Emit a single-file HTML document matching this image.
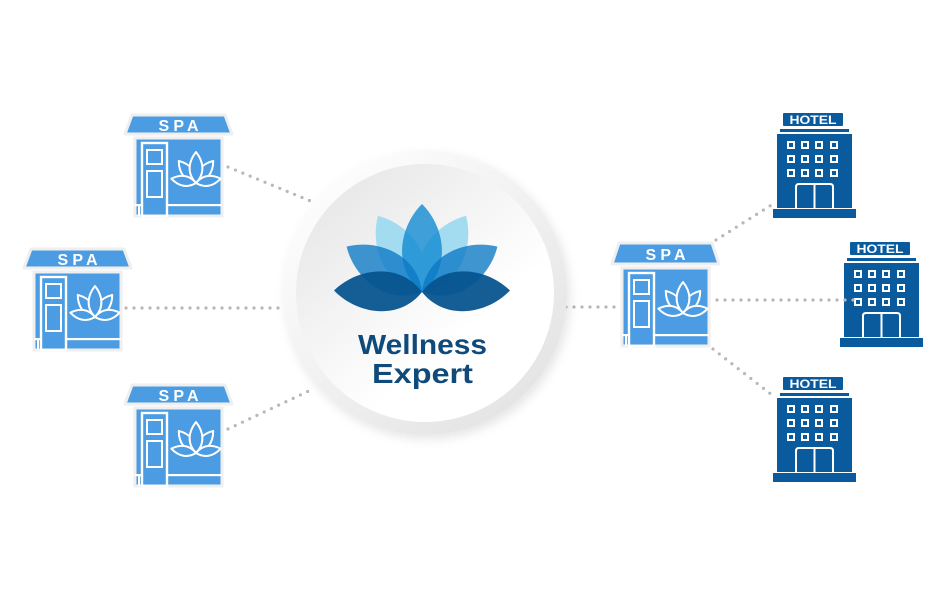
<!DOCTYPE html>
<html><head><meta charset="utf-8"><style>
html,body{margin:0;padding:0;background:#fff;}
svg{display:block;}
text{font-family:"Liberation Sans",sans-serif;font-weight:bold;}
</style></head><body>
<svg width="940" height="600" viewBox="0 0 940 600" xmlns="http://www.w3.org/2000/svg">
<defs>
  <linearGradient id="ring" x1="0.15" y1="0.1" x2="0.85" y2="0.9">
    <stop offset="0" stop-color="#fdfdfd"/><stop offset="1" stop-color="#e4e4e4"/>
  </linearGradient>
  <linearGradient id="disc" x1="0.15" y1="0.1" x2="0.8" y2="0.85">
    <stop offset="0" stop-color="#e8e8e8"/><stop offset="0.75" stop-color="#ffffff"/><stop offset="1" stop-color="#ffffff"/>
  </linearGradient>
  <filter id="sh" x="-20%" y="-20%" width="140%" height="140%">
    <feDropShadow dx="3" dy="4" stdDeviation="5" flood-color="#000" flood-opacity="0.10"/>
  </filter>
</defs>

<!-- dotted connectors -->
<g stroke="#b8b8b8" stroke-width="3.2" stroke-linecap="round" stroke-dasharray="0 8" fill="none">
  <line x1="228" y1="167" x2="313" y2="202"/>
  <line x1="126" y1="308" x2="282" y2="308"/>
  <line x1="228" y1="429" x2="313" y2="389"/>
  <line x1="566" y1="307" x2="616" y2="307"/>
  <line x1="716" y1="240" x2="773" y2="204"/>
  <line x1="717" y1="300" x2="861" y2="300"/>
  <line x1="713" y1="349" x2="772" y2="395"/>
</g>

<!-- center circle -->
<circle cx="425" cy="293" r="142" fill="url(#ring)" filter="url(#sh)"/>
<circle cx="425" cy="293" r="129" fill="url(#disc)"/>

<!-- big lotus -->
<g transform="translate(422,292)">
  <g fill="#a3dcf0">
    <path transform="rotate(-30)" d="M0,0 C29,-22 24,-64 0,-88 C-24,-64 -29,-22 0,0Z"/>
    <path transform="rotate(30)" d="M0,0 C29,-22 24,-64 0,-88 C-24,-64 -29,-22 0,0Z"/>
  </g>
  <path fill="rgb(18,138,210)" fill-opacity="0.8" d="M0,0 C29,-22 24,-64 0,-88 C-24,-64 -29,-22 0,0Z"/>
  <g fill="rgb(10,120,196)" fill-opacity="0.78">
    <path transform="rotate(-59)" d="M0,0 C29,-22 24,-64 0,-88 C-24,-64 -29,-22 0,0Z"/>
    <path transform="rotate(59)" d="M0,0 C29,-22 24,-64 0,-88 C-24,-64 -29,-22 0,0Z"/>
  </g>
  <g fill="rgb(6,84,142)" fill-opacity="0.94">
    <path transform="rotate(-89)" d="M0,0 C29,-22 24,-64 0,-88 C-24,-64 -29,-22 0,0Z"/>
    <path transform="rotate(89)" d="M0,0 C29,-22 24,-64 0,-88 C-24,-64 -29,-22 0,0Z"/>
  </g>
</g>
<text x="358" y="354" font-size="28" fill="#0f4a7b" textLength="129" lengthAdjust="spacingAndGlyphs">Wellness</text>
<text x="372" y="383" font-size="28" fill="#0f4a7b" textLength="101" lengthAdjust="spacingAndGlyphs">Expert</text>

<!-- SPA 1 -->
<g transform="translate(135,138)">
  <polygon points="-3,-23 90,-23 97,-4 -10,-4" fill="#4b9ce2" stroke="#efefef" stroke-width="3" stroke-linejoin="round"/>
  <rect x="0" y="0" width="87" height="78" fill="#4b9ce2" stroke="#efefef" stroke-width="3"/>
  <text x="23.5" y="-7" font-size="16" fill="#fff" textLength="40" lengthAdjust="spacing">SPA</text>
  <rect x="0" y="66" width="7" height="2.2" fill="#fff"/><rect x="32" y="66" width="55" height="2.2" fill="#fff"/>
  <rect x="3" y="66" width="2" height="12" fill="#fff"/>
  <rect x="7" y="5" width="25" height="73" fill="none" stroke="#fff" stroke-width="2.4"/>
  <rect x="12" y="12" width="15" height="14" fill="none" stroke="#fff" stroke-width="2"/>
  <rect x="12" y="33" width="15" height="26" fill="none" stroke="#fff" stroke-width="2"/>
  <g transform="translate(61,45)" fill="#4b9ce2" stroke="#fff" stroke-width="2" stroke-linejoin="round">
    <path transform="rotate(-38)" d="M0,0 C8,-8 7,-19 0,-28 C-7,-19 -8,-8 0,0Z"/>
    <path transform="rotate(38)" d="M0,0 C8,-8 7,-19 0,-28 C-7,-19 -8,-8 0,0Z"/>
    <path d="M0,0 C9,-9 8,-21 0,-31 C-8,-21 -9,-9 0,0Z"/>
    <path transform="rotate(-80)" d="M0,0 C7,-8 6,-17 0,-25 C-6,-17 -7,-8 0,0Z"/>
    <path transform="rotate(80)" d="M0,0 C7,-8 6,-17 0,-25 C-6,-17 -7,-8 0,0Z"/>
  </g>
</g>

<!-- SPA 2 -->
<g transform="translate(34,272)">
  <polygon points="-3,-23 90,-23 97,-4 -10,-4" fill="#4b9ce2" stroke="#efefef" stroke-width="3" stroke-linejoin="round"/>
  <rect x="0" y="0" width="87" height="78" fill="#4b9ce2" stroke="#efefef" stroke-width="3"/>
  <text x="23.5" y="-7" font-size="16" fill="#fff" textLength="40" lengthAdjust="spacing">SPA</text>
  <rect x="0" y="66" width="7" height="2.2" fill="#fff"/><rect x="32" y="66" width="55" height="2.2" fill="#fff"/>
  <rect x="3" y="66" width="2" height="12" fill="#fff"/>
  <rect x="7" y="5" width="25" height="73" fill="none" stroke="#fff" stroke-width="2.4"/>
  <rect x="12" y="12" width="15" height="14" fill="none" stroke="#fff" stroke-width="2"/>
  <rect x="12" y="33" width="15" height="26" fill="none" stroke="#fff" stroke-width="2"/>
  <g transform="translate(61,45)" fill="#4b9ce2" stroke="#fff" stroke-width="2" stroke-linejoin="round">
    <path transform="rotate(-38)" d="M0,0 C8,-8 7,-19 0,-28 C-7,-19 -8,-8 0,0Z"/>
    <path transform="rotate(38)" d="M0,0 C8,-8 7,-19 0,-28 C-7,-19 -8,-8 0,0Z"/>
    <path d="M0,0 C9,-9 8,-21 0,-31 C-8,-21 -9,-9 0,0Z"/>
    <path transform="rotate(-80)" d="M0,0 C7,-8 6,-17 0,-25 C-6,-17 -7,-8 0,0Z"/>
    <path transform="rotate(80)" d="M0,0 C7,-8 6,-17 0,-25 C-6,-17 -7,-8 0,0Z"/>
  </g>
</g>

<!-- SPA 3 -->
<g transform="translate(135,408)">
  <polygon points="-3,-23 90,-23 97,-4 -10,-4" fill="#4b9ce2" stroke="#efefef" stroke-width="3" stroke-linejoin="round"/>
  <rect x="0" y="0" width="87" height="78" fill="#4b9ce2" stroke="#efefef" stroke-width="3"/>
  <text x="23.5" y="-7" font-size="16" fill="#fff" textLength="40" lengthAdjust="spacing">SPA</text>
  <rect x="0" y="66" width="7" height="2.2" fill="#fff"/><rect x="32" y="66" width="55" height="2.2" fill="#fff"/>
  <rect x="3" y="66" width="2" height="12" fill="#fff"/>
  <rect x="7" y="5" width="25" height="73" fill="none" stroke="#fff" stroke-width="2.4"/>
  <rect x="12" y="12" width="15" height="14" fill="none" stroke="#fff" stroke-width="2"/>
  <rect x="12" y="33" width="15" height="26" fill="none" stroke="#fff" stroke-width="2"/>
  <g transform="translate(61,45)" fill="#4b9ce2" stroke="#fff" stroke-width="2" stroke-linejoin="round">
    <path transform="rotate(-38)" d="M0,0 C8,-8 7,-19 0,-28 C-7,-19 -8,-8 0,0Z"/>
    <path transform="rotate(38)" d="M0,0 C8,-8 7,-19 0,-28 C-7,-19 -8,-8 0,0Z"/>
    <path d="M0,0 C9,-9 8,-21 0,-31 C-8,-21 -9,-9 0,0Z"/>
    <path transform="rotate(-80)" d="M0,0 C7,-8 6,-17 0,-25 C-6,-17 -7,-8 0,0Z"/>
    <path transform="rotate(80)" d="M0,0 C7,-8 6,-17 0,-25 C-6,-17 -7,-8 0,0Z"/>
  </g>
</g>

<!-- SPA right -->
<g transform="translate(622,268)">
  <polygon points="-3,-25 90,-25 97,-4 -10,-4" fill="#4b9ce2" stroke="#efefef" stroke-width="3" stroke-linejoin="round"/>
  <rect x="0" y="0" width="87" height="78" fill="#4b9ce2" stroke="#efefef" stroke-width="3"/>
  <text x="23.5" y="-8" font-size="16" fill="#fff" textLength="40" lengthAdjust="spacing">SPA</text>
  <rect x="0" y="66" width="7" height="2.2" fill="#fff"/><rect x="32" y="66" width="55" height="2.2" fill="#fff"/>
  <rect x="3" y="66" width="2" height="12" fill="#fff"/>
  <rect x="7" y="5" width="25" height="73" fill="none" stroke="#fff" stroke-width="2.4"/>
  <rect x="12" y="12" width="15" height="14" fill="none" stroke="#fff" stroke-width="2"/>
  <rect x="12" y="33" width="15" height="26" fill="none" stroke="#fff" stroke-width="2"/>
  <g transform="translate(61,45)" fill="#4b9ce2" stroke="#fff" stroke-width="2" stroke-linejoin="round">
    <path transform="rotate(-38)" d="M0,0 C8,-8 7,-19 0,-28 C-7,-19 -8,-8 0,0Z"/>
    <path transform="rotate(38)" d="M0,0 C8,-8 7,-19 0,-28 C-7,-19 -8,-8 0,0Z"/>
    <path d="M0,0 C9,-9 8,-21 0,-31 C-8,-21 -9,-9 0,0Z"/>
    <path transform="rotate(-80)" d="M0,0 C7,-8 6,-17 0,-25 C-6,-17 -7,-8 0,0Z"/>
    <path transform="rotate(80)" d="M0,0 C7,-8 6,-17 0,-25 C-6,-17 -7,-8 0,0Z"/>
  </g>
</g>

<!-- HOTEL 1 -->
<g transform="translate(777,134)">
  <rect x="6" y="-21" width="60" height="13" rx="1" fill="#0a5a9e"/>
  <text x="12.5" y="-10" font-size="12" fill="#fff" textLength="47" lengthAdjust="spacingAndGlyphs">HOTEL</text>
  <rect x="3" y="-5" width="69" height="3" fill="#0a5a9e"/>
  <rect x="0" y="0" width="75" height="74" fill="#0a5a9e"/>
  <g fill="none" stroke="#fff" stroke-width="2">
    <rect x="11" y="8" width="6" height="6"/><rect x="25" y="8" width="6" height="6"/><rect x="39" y="8" width="6" height="6"/><rect x="54" y="8" width="6" height="6"/>
    <rect x="11" y="22" width="6" height="6"/><rect x="25" y="22" width="6" height="6"/><rect x="39" y="22" width="6" height="6"/><rect x="54" y="22" width="6" height="6"/>
    <rect x="11" y="36" width="6" height="6"/><rect x="25" y="36" width="6" height="6"/><rect x="39" y="36" width="6" height="6"/><rect x="54" y="36" width="6" height="6"/>
    <path d="M19,74 V53 Q19,50 22,50 H53 Q56,50 56,53 V74"/>
    <line x1="37.5" y1="50" x2="37.5" y2="74"/>
  </g>
  <rect x="-4" y="75" width="83" height="9" fill="#0a5a9e"/>
</g>

<!-- HOTEL 2 -->
<g transform="translate(844,263)">
  <rect x="6" y="-21" width="60" height="13" rx="1" fill="#0a5a9e"/>
  <text x="12.5" y="-10" font-size="12" fill="#fff" textLength="47" lengthAdjust="spacingAndGlyphs">HOTEL</text>
  <rect x="3" y="-5" width="69" height="3" fill="#0a5a9e"/>
  <rect x="0" y="0" width="75" height="74" fill="#0a5a9e"/>
  <g fill="none" stroke="#fff" stroke-width="2">
    <rect x="11" y="8" width="6" height="6"/><rect x="25" y="8" width="6" height="6"/><rect x="39" y="8" width="6" height="6"/><rect x="54" y="8" width="6" height="6"/>
    <rect x="11" y="22" width="6" height="6"/><rect x="25" y="22" width="6" height="6"/><rect x="39" y="22" width="6" height="6"/><rect x="54" y="22" width="6" height="6"/>
    <rect x="11" y="36" width="6" height="6"/><rect x="25" y="36" width="6" height="6"/><rect x="39" y="36" width="6" height="6"/><rect x="54" y="36" width="6" height="6"/>
    <path d="M19,74 V53 Q19,50 22,50 H53 Q56,50 56,53 V74"/>
    <line x1="37.5" y1="50" x2="37.5" y2="74"/>
  </g>
  <rect x="-4" y="75" width="83" height="9" fill="#0a5a9e"/>
</g>
<g stroke="#b8b8b8" stroke-width="3.2" stroke-linecap="round" stroke-dasharray="0 8" fill="none">
  <line x1="845" y1="300" x2="861" y2="300"/>
</g>

<!-- HOTEL 3 -->
<g transform="translate(777,398)">
  <rect x="6" y="-21" width="60" height="13" rx="1" fill="#0a5a9e"/>
  <text x="12.5" y="-10" font-size="12" fill="#fff" textLength="47" lengthAdjust="spacingAndGlyphs">HOTEL</text>
  <rect x="3" y="-5" width="69" height="3" fill="#0a5a9e"/>
  <rect x="0" y="0" width="75" height="74" fill="#0a5a9e"/>
  <g fill="none" stroke="#fff" stroke-width="2">
    <rect x="11" y="8" width="6" height="6"/><rect x="25" y="8" width="6" height="6"/><rect x="39" y="8" width="6" height="6"/><rect x="54" y="8" width="6" height="6"/>
    <rect x="11" y="22" width="6" height="6"/><rect x="25" y="22" width="6" height="6"/><rect x="39" y="22" width="6" height="6"/><rect x="54" y="22" width="6" height="6"/>
    <rect x="11" y="36" width="6" height="6"/><rect x="25" y="36" width="6" height="6"/><rect x="39" y="36" width="6" height="6"/><rect x="54" y="36" width="6" height="6"/>
    <path d="M19,74 V53 Q19,50 22,50 H53 Q56,50 56,53 V74"/>
    <line x1="37.5" y1="50" x2="37.5" y2="74"/>
  </g>
  <rect x="-4" y="75" width="83" height="9" fill="#0a5a9e"/>
</g>
</svg>
</body></html>
